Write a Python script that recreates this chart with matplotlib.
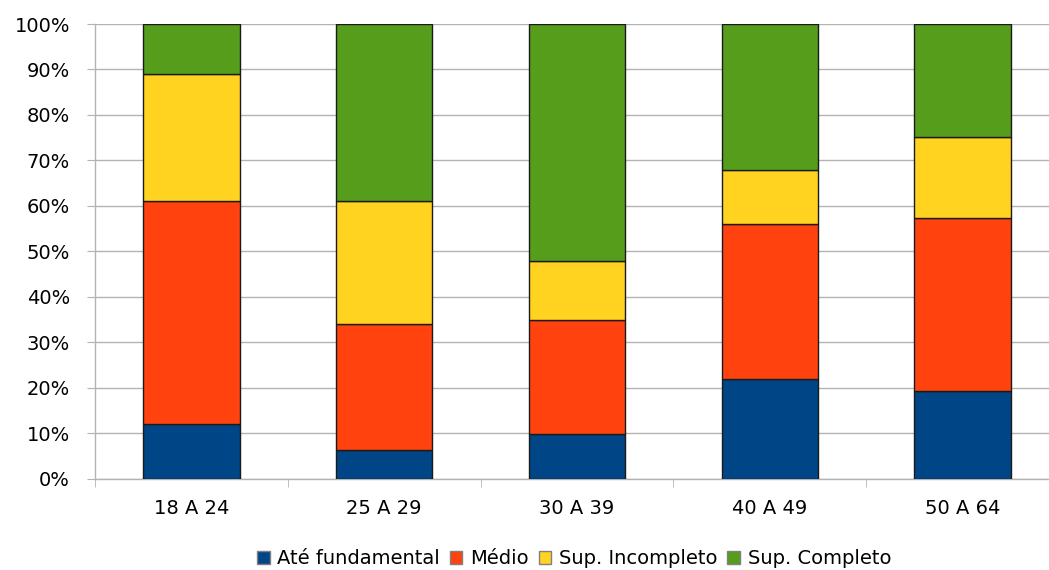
import numpy as np
import matplotlib.pyplot as plt
from matplotlib.ticker import FixedLocator, PercentFormatter

faixas = ['18 A 24', '25 A 29', '30 A 39', '40 A 49', '50 A 64']
ate_fundamental = [12.0, 6.2, 9.9, 21.9, 19.3]
medio = [49.0, 27.9, 24.9, 34.1, 38.0]
sup_incompleto = [27.9, 26.9, 13.1, 11.9, 17.8]
sup_completo = [11.1, 39.0, 52.1, 32.1, 24.9]

series = [
    ('Até fundamental', ate_fundamental, '#004586'),
    ('Médio', medio, '#ff420e'),
    ('Sup. Incompleto', sup_incompleto, '#ffd320'),
    ('Sup. Completo', sup_completo, '#579d1c'),
]

plt.rcParams['font.family'] = ['DejaVu Sans']

fig = plt.figure(figsize=(10.49, 5.70), dpi=100)
ax = fig.add_axes([95 / 1049, (570 - 478.5) / 570, (1059 - 95) / 1049, (478.5 - 24) / 570])

x = np.arange(len(faixas))
base = np.zeros(len(faixas))
for nome, valores, cor in series:
    ax.bar(x, valores, width=0.5, bottom=base, color=cor, edgecolor='#1a1a1a',
           linewidth=1.0, label=nome, zorder=3)
    base += np.array(valores)

ax.set_xlim(-0.5, len(faixas) - 0.5)
ax.set_ylim(0, 100)
ax.set_yticks(np.arange(0, 101, 10))
ax.yaxis.set_major_formatter(PercentFormatter(decimals=0))
ax.grid(axis='y', color='#b3b3b3', linewidth=1.0, zorder=0)

ax.set_xticks(x)
ax.set_xticklabels(faixas)
ax.xaxis.set_minor_locator(FixedLocator(np.arange(-0.5, len(faixas), 1.0)))
ax.tick_params(axis='x', which='major', length=0, pad=15, labelsize=14)
ax.tick_params(axis='x', which='minor', length=6, color='#b3b3b3', direction='out')
ax.tick_params(axis='y', length=6, color='#b3b3b3', pad=12, labelsize=14)

for lado in ['top', 'right']:
    ax.spines[lado].set_visible(False)
for lado in ['left', 'bottom']:
    ax.spines[lado].set_color('#b3b3b3')
    ax.spines[lado].set_linewidth(1.0)

leg = fig.legend(loc='center', bbox_to_anchor=(574 / 1049, 1 - 559 / 570), ncol=4,
                 frameon=False, fontsize=14, handlelength=0.65, handleheight=0.65,
                 handletextpad=0.4, columnspacing=0.5)
for h in leg.legend_handles:
    h.set_edgecolor('#808080')

fig.savefig('out.png', dpi=100)
